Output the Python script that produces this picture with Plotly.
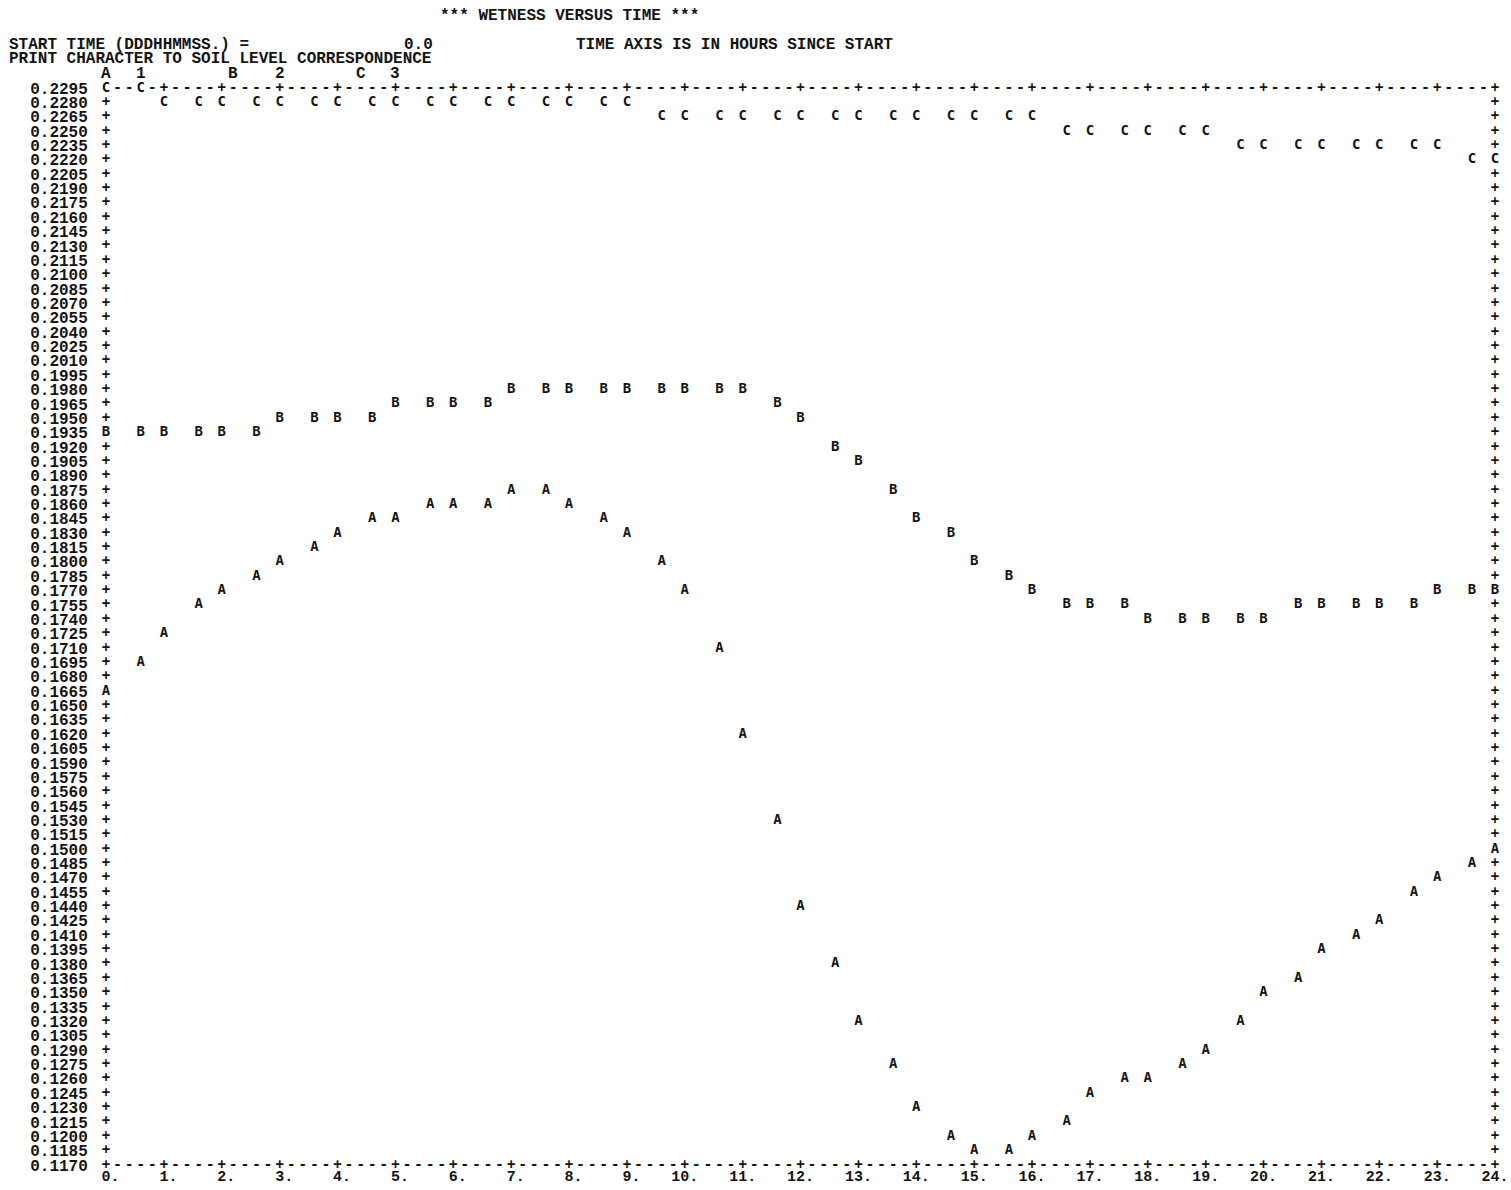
import math
import plotly.graph_objects as go

# ---------------- text ----------------
TITLE = "*** WETNESS VERSUS TIME ***"
START_LABEL = "START TIME (DDDHHMMSS.) ="
START_VALUE = "0.0"
AXIS_NOTE = "TIME AXIS IS IN HOURS SINCE START"
LEGEND_HEAD = "PRINT CHARACTER TO SOIL LEVEL CORRESPONDENCE"
PRINT_CHARS = ["A", "B", "C"]
SOIL_LEVELS = ["1", "2", "3"]

# ---------------- data (hours since start, wetness) ----------------
times = [0.0, 0.5, 1.0, 1.5, 2.0, 2.5, 3.0, 3.5, 4.0, 4.5, 5.0, 5.5, 6.0, 6.5,
         7.0, 7.5, 8.0, 8.5, 9.0, 9.5, 10.0, 10.5, 11.0, 11.5, 12.0, 12.5,
         13.0, 13.5, 14.0, 14.5, 15.0, 15.5, 16.0, 16.5, 17.0, 17.5, 18.0,
         18.5, 19.0, 19.5, 20.0, 20.5, 21.0, 21.5, 22.0, 22.5, 23.0, 23.5, 24.0]

wet_A = [0.1665, 0.1695, 0.1725, 0.1755, 0.1770, 0.1785, 0.1800, 0.1815, 0.1830,
         0.1845, 0.1845, 0.1860, 0.1860, 0.1860, 0.1875, 0.1875, 0.1860, 0.1845,
         0.1830, 0.1800, 0.1770, 0.1710, 0.1620, 0.1530, 0.1440, 0.1380, 0.1320,
         0.1275, 0.1230, 0.1200, 0.1185, 0.1185, 0.1200, 0.1215, 0.1245, 0.1260,
         0.1260, 0.1275, 0.1290, 0.1320, 0.1350, 0.1365, 0.1395, 0.1410, 0.1425,
         0.1455, 0.1470, 0.1485, 0.1500]

wet_B = [0.1935, 0.1935, 0.1935, 0.1935, 0.1935, 0.1935, 0.1950, 0.1950, 0.1950,
         0.1950, 0.1965, 0.1965, 0.1965, 0.1965, 0.1980, 0.1980, 0.1980, 0.1980,
         0.1980, 0.1980, 0.1980, 0.1980, 0.1980, 0.1965, 0.1950, 0.1920, 0.1905,
         0.1875, 0.1845, 0.1830, 0.1800, 0.1785, 0.1770, 0.1755, 0.1755, 0.1755,
         0.1740, 0.1740, 0.1740, 0.1740, 0.1740, 0.1755, 0.1755, 0.1755, 0.1755,
         0.1755, 0.1770, 0.1770, 0.1770]

wet_C = [0.2295, 0.2295, 0.2280, 0.2280, 0.2280, 0.2280, 0.2280, 0.2280, 0.2280,
         0.2280, 0.2280, 0.2280, 0.2280, 0.2280, 0.2280, 0.2280, 0.2280, 0.2280,
         0.2280, 0.2265, 0.2265, 0.2265, 0.2265, 0.2265, 0.2265, 0.2265, 0.2265,
         0.2265, 0.2265, 0.2265, 0.2265, 0.2265, 0.2265, 0.2250, 0.2250, 0.2250,
         0.2250, 0.2250, 0.2250, 0.2235, 0.2235, 0.2235, 0.2235, 0.2235, 0.2235,
         0.2235, 0.2235, 0.2220, 0.2220]

# printer grid
Y_TOP, Y_BOT, Y_STEP = 0.2295, 0.1170, 0.0015
N_ROWS = 76
HOURS = 24
COL_H = 0.2          # hours per printer column
N_COLS = int(round(HOURS / COL_H))  # 120

y_ticks = [round(Y_TOP - i * Y_STEP, 4) for i in range(N_ROWS)]
y_ticktext = [f"{v:.4f}" for v in y_ticks]
x_ticks = list(range(HOURS + 1))
x_ticktext = [("\u00a0" if h < 10 else "") + f"{h}." for h in x_ticks]

INK = "#141414"
MARK_FONT = dict(family="DejaVu Sans Mono", size=14, color=INK, weight="bold")
STR_FONT = dict(family="Liberation Mono", size=16, color=INK, weight="bold")
XLAB_FONT = dict(family="Liberation Mono", size=15, color=INK, weight="bold")


def col_of(t):
    return int(math.floor(t / COL_H + 0.5 + 1e-9))


def row_of(v):
    return int(round((Y_TOP - v) / Y_STEP))


series = [("A", wet_A), ("B", wet_B), ("C", wet_C)]
occupied = set()
for ch, vals in series:
    for t, v in zip(times, vals):
        occupied.add((col_of(t), row_of(v)))

# frame characters (line-printer border)
fx, fy, ft = [], [], []
for r in range(N_ROWS):
    if r in (0, N_ROWS - 1):
        for c in range(N_COLS + 1):
            if (c, r) in occupied:
                continue
            fx.append(c * COL_H)
            fy.append(y_ticks[r])
            ft.append("+" if c % 5 == 0 else "-")
    else:
        for c in (0, N_COLS):
            if (c, r) in occupied:
                continue
            fx.append(c * COL_H)
            fy.append(y_ticks[r])
            ft.append("+")

fig = go.Figure()
fig.add_trace(go.Scatter(x=fx, y=fy, text=ft, mode="text", textfont=MARK_FONT,
                         textposition="middle center", cliponaxis=False,
                         hoverinfo="skip", showlegend=False))

for ch, vals in series:
    fig.add_trace(go.Scatter(
        x=[col_of(t) * COL_H for t in times], y=vals, text=[ch] * len(vals),
        mode="text", textfont=MARK_FONT, textposition="middle center",
        cliponaxis=False, name=ch, showlegend=False,
        customdata=times,
        hovertemplate=ch + ": %{customdata} h, %{y:.4f}<extra></extra>"))

Y_SPAN = Y_TOP - Y_BOT


def put(text, start_col, rows_above, anchor="center"):
    n = len(text)
    if anchor == "left":
        xc = start_col - 0.5
    else:
        xc = start_col + (n - 1) / 2.0
    fig.add_annotation(x=xc * COL_H / HOURS, y=1 + rows_above * Y_STEP / Y_SPAN,
                       xref="paper", yref="paper", text=text, showarrow=False,
                       xanchor=anchor, yanchor="middle", font=STR_FONT,
                       borderpad=0)


put(TITLE, 27, 5)
put(START_LABEL, -8, 3, "left")
put(START_VALUE, 26, 3)
put(AXIS_NOTE, 41, 3, "left")
put(LEGEND_HEAD, -8, 2, "left")
legend_cols = [(0, 3), (11, 15), (22, 25)]
for (pc, lc), ch, lev in zip(legend_cols, PRINT_CHARS, SOIL_LEVELS):
    put(ch, pc, 1)
    put(lev, lc, 1)

fig.update_layout(
    template="none",
    width=1511, height=1190,
    margin=dict(l=106, r=16, t=88, b=25, autoexpand=False),
    paper_bgcolor="white", plot_bgcolor="white",
    xaxis=dict(range=[0, HOURS], tickmode="array", tickvals=x_ticks,
               ticktext=x_ticktext, showgrid=False, zeroline=False,
               showline=False, ticks="",
               tickfont=XLAB_FONT,
               ticklabeloverflow="allow", automargin=False),
    yaxis=dict(range=[Y_BOT, Y_TOP], tickmode="array", tickvals=y_ticks,
               ticktext=y_ticktext, showgrid=False, zeroline=False,
               showline=False, ticks="outside", ticklen=14,
               tickcolor="rgba(0,0,0,0)", tickfont=STR_FONT,
               ticklabeloverflow="allow", automargin=False),
)

fig.write_html("out.html",
               config={"displayModeBar": False},
               post_script="document.body.style.margin='0px';"
                           "document.body.style.overflow='hidden';")
